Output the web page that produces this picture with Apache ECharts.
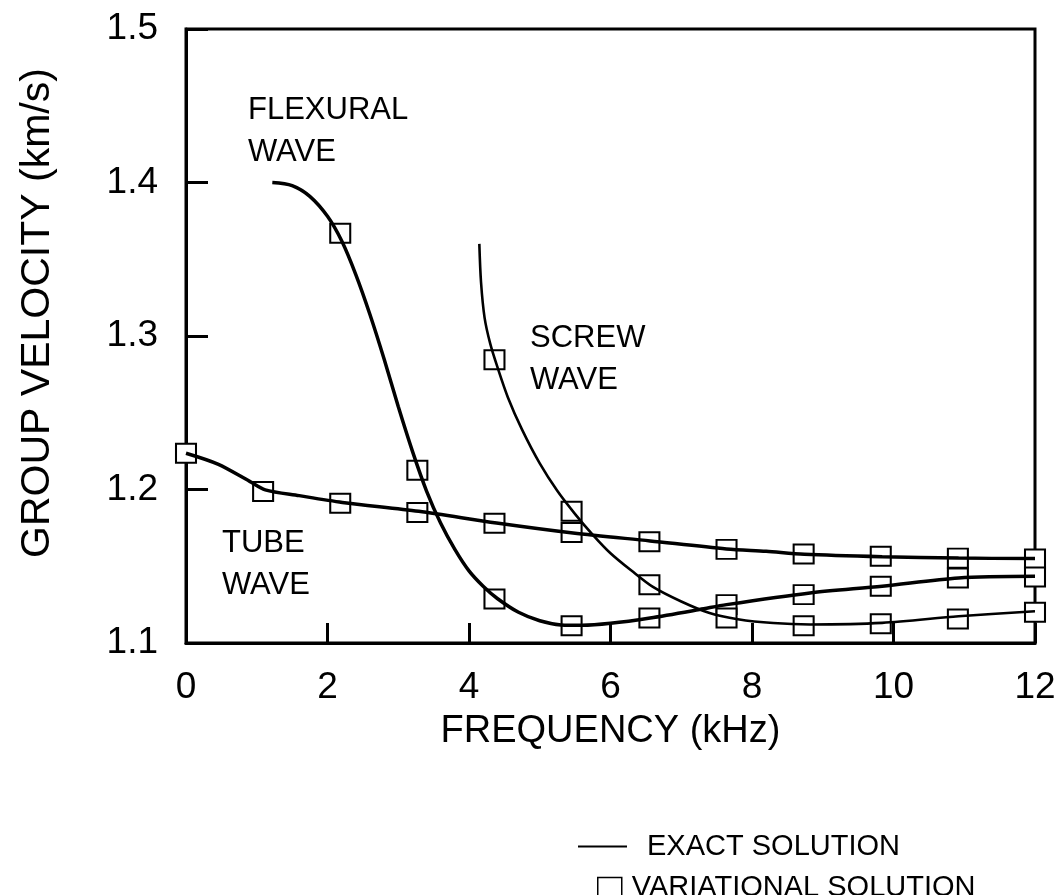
<!DOCTYPE html>
<html>
<head>
<meta charset="utf-8">
<script src="https://cdn.jsdelivr.net/npm/echarts@6/dist/echarts.min.js"></script>
<style>html,body{margin:0;padding:0;background:#fff}#c{width:1063px;height:895px}</style>
</head>
<body>
<div id="c"></div>
<script>
// ---- data ----
const xTicks = [0, 2, 4, 6, 8, 10, 12];
const yTicks = [1.1, 1.2, 1.3, 1.4, 1.5];

// exact solution curves [frequency kHz, group velocity km/s]
const tubeExact = [[0,1.2236],[0.45,1.2165],[0.9,1.2053],[1.12,1.1998],[1.6,1.1960],[2.21,1.1916],[3.29,1.1858],[4.39,1.1782],[5.47,1.1717],[6.56,1.1665],[7.64,1.1613],[8.2,1.1597],[8.74,1.1578],[9.84,1.1562],[10.92,1.1553],[12,1.155]];
const flexExact = [[1.22,1.400],[1.5,1.398],[1.75,1.391],[2.0,1.378],[2.2,1.362],[2.4,1.340],[2.6,1.314],[2.8,1.285],[3.0,1.254],[3.2,1.225],[3.4,1.199],[3.6,1.178],[3.8,1.161],[4.0,1.147],[4.2,1.137],[4.4,1.129],[4.7,1.120],[5.0,1.1145],[5.3,1.1118],[5.6,1.1115],[6.0,1.1128],[6.56,1.1163],[7.26,1.1218],[7.64,1.125],[8.82,1.1326],[9.84,1.137],[10.92,1.1424],[12,1.1435]];
const screwExact = [[4.146,1.360],[4.17,1.335],[4.22,1.312],[4.30,1.295],[4.40,1.280],[4.55,1.260],[4.75,1.239],[5.0,1.217],[5.25,1.199],[5.5,1.184],[5.75,1.1705],[6.0,1.1585],[6.3,1.147],[6.6,1.1365],[7.0,1.127],[7.4,1.1195],[7.8,1.1155],[8.3,1.113],[8.82,1.1121],[9.84,1.1131],[10.92,1.1174],[12,1.1207]];

// variational solution points
const tubeVar = [[0,1.2236],[1.09,1.1987],[2.18,1.191],[3.27,1.185],[4.36,1.178],[5.45,1.172],[6.55,1.166],[7.64,1.161],[8.73,1.158],[9.82,1.1565],[10.91,1.1553],[12,1.1547]];
const flexVar = [[2.18,1.367],[3.27,1.2125],[4.36,1.1287],[5.45,1.1113],[6.55,1.1163],[7.64,1.125],[8.73,1.1315],[9.82,1.137],[10.91,1.1424],[12,1.143]];
const screwVar = [[4.36,1.2845],[5.45,1.1858],[6.55,1.138],[7.64,1.1163],[8.73,1.1113],[9.82,1.1126],[10.91,1.1157],[12,1.120]];

const labels = {
  flex: 'FLEXURAL\nWAVE',
  screw: 'SCREW\nWAVE',
  tube: 'TUBE\nWAVE'
};
const xName = 'FREQUENCY (kHz)';
const yName = 'GROUP VELOCITY (km/s)';
const exactName = 'EXACT SOLUTION';
const varName = 'VARIATIONAL SOLUTION';

// ---- chart ----
const FONT = '"Liberation Sans", Arial, Helvetica, sans-serif';
const chart = echarts.init(document.getElementById('c'), null, {renderer: 'canvas'});

function lineSeries(data, w) {
  return {
    name: exactName, type: 'line', data: data, smooth: 0.3,
    symbol: 'none', showSymbol: false,
    itemStyle: {color: '#000'},
    lineStyle: {color: '#000', width: w}, z: 3
  };
}
function varSeries(data) {
  return {
    name: varName, type: 'scatter', data: data,
    symbol: 'rect', symbolSize: [20, 19],
    itemStyle: {color: '#fff', borderColor: '#000', borderWidth: 2, opacity: 1},
    z: 2
  };
}

const annoFont = 'normal 31px ' + FONT;
function anno(text, left, top) {
  return {
    type: 'text', left: left, top: top, z: 10,
    style: {text: text, font: annoFont, fill: '#000', lineHeight: 42}
  };
}

chart.setOption({
  animation: false,
  backgroundColor: '#fff',
  grid: {left: 186, right: 28, top: 29, bottom: 252, show: true, borderColor: '#000', borderWidth: 3, backgroundColor: 'transparent'},
  xAxis: {
    type: 'value', min: xTicks[0], max: xTicks[xTicks.length - 1], interval: 2,
    name: xName, nameLocation: 'middle', nameGap: 70,
    nameTextStyle: {fontFamily: FONT, fontSize: 38, color: '#000'},
    axisLine: {show: true, lineStyle: {color: '#000', width: 3}},
    axisTick: {show: true, inside: true, length: 20, lineStyle: {color: '#000', width: 3}},
    axisLabel: {fontFamily: FONT, fontSize: 37, color: '#000', margin: 26},
    splitLine: {show: false}
  },
  yAxis: {
    type: 'value', min: yTicks[0], max: yTicks[yTicks.length - 1], interval: 0.1,
    name: yName, nameLocation: 'middle', nameGap: 128,
    nameTextStyle: {fontFamily: FONT, fontSize: 41, color: '#000', padding: [0, 0, 0, 46]},
    axisLine: {show: true, lineStyle: {color: '#000', width: 3}},
    axisTick: {show: true, inside: true, length: 22, lineStyle: {color: '#000', width: 3}},
    axisLabel: {fontFamily: FONT, fontSize: 37, color: '#000', margin: 28,
      formatter: v => v.toFixed(1)},
    splitLine: {show: false}
  },
  legend: [
    {
      data: [{name: exactName, icon: 'rect'}], orient: 'vertical', left: 578, top: 832, padding: 0,
      itemWidth: 49, itemHeight: 2,
      itemStyle: {color: '#000', borderWidth: 0},
      textStyle: {fontFamily: FONT, fontSize: 29, color: '#000', padding: [0, 0, 0, 15]},
      selectedMode: false
    },
    {
      data: [{name: varName, icon: 'rect'}], orient: 'vertical', left: 597, top: 873, padding: 0,
      itemWidth: 24, itemHeight: 20,
      itemStyle: {color: '#fff', borderColor: '#000', borderWidth: 1.5},
      textStyle: {fontFamily: FONT, fontSize: 29, color: '#000', padding: [0, 0, 0, 5]},
      selectedMode: false
    }
  ],
  graphic: [
    anno(labels.flex, 248, 89),
    anno(labels.screw, 530, 317),
    anno(labels.tube, 222, 522)
  ],
  series: [
    lineSeries(tubeExact, 3.5),
    lineSeries(flexExact, 3.5),
    lineSeries(screwExact, 2.6),
    varSeries(tubeVar),
    varSeries(flexVar),
    varSeries(screwVar)
  ]
});
</script>
</body>
</html>
